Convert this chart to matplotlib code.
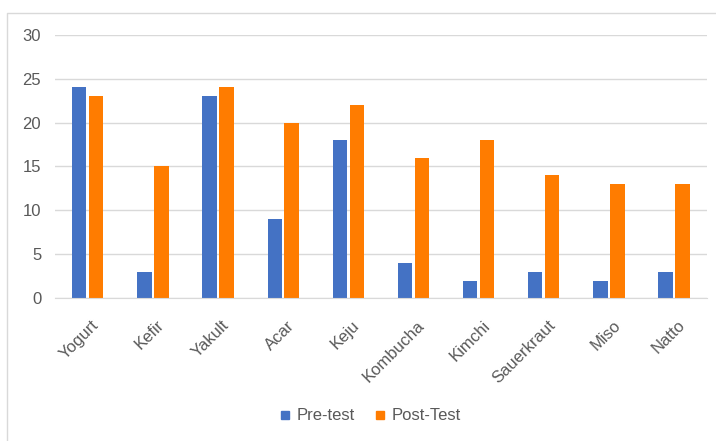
import numpy as np
import matplotlib.pyplot as plt
import matplotlib.transforms as mtransforms
from matplotlib.lines import Line2D

categories = ["Yogurt", "Kefir", "Yakult", "Acar", "Keju", "Kombucha",
              "Kimchi", "Sauerkraut", "Miso", "Natto"]
pre_test = [24, 3, 23, 9, 18, 4, 2, 3, 2, 3]
post_test = [23, 15, 24, 20, 22, 16, 18, 14, 13, 13]

BLUE = "#4472C4"
ORANGE = "#FF7C00"
GRAY = "#595959"

plt.rcParams["font.family"] = ["Liberation Sans", "DejaVu Sans"]

fig = plt.figure(figsize=(7.16, 4.41), dpi=100)
ax = fig.add_axes([0.077, 0.324, 0.91, 0.597])

x = np.arange(len(categories))
w = 0.22
ax.bar(x - 0.13, pre_test, w, color=BLUE, label="Pre-test")
ax.bar(x + 0.13, post_test, w, color=ORANGE, label="Post-Test")

ax.set_xlim(-0.5, len(categories) - 0.5)
ax.set_ylim(0, 30)
ax.set_yticks(range(0, 31, 5))
ax.yaxis.grid(True, color="#D9D9D9", linewidth=1)
ax.set_axisbelow(True)
for s in ["top", "right", "left"]:
    ax.spines[s].set_visible(False)
ax.spines["bottom"].set_color("#D9D9D9")

ax.tick_params(axis="both", length=0, colors=GRAY, labelsize=12)
ax.tick_params(axis="y", pad=10)
ax.set_xticks(x)
ax.set_xticklabels(categories, rotation=45, ha="right", va="center",
                   rotation_mode="anchor")
shift = mtransforms.ScaledTranslation(9 / 100, -20 / 100, fig.dpi_scale_trans)
for lbl in ax.get_xticklabels():
    lbl.set_color(GRAY)
    lbl.set_transform(lbl.get_transform() + shift)

fig.legend(handles=[
    Line2D([], [], marker="s", linestyle="none", color=BLUE, markersize=6, label="Pre-test"),
    Line2D([], [], marker="s", linestyle="none", color=ORANGE, markersize=6, label="Post-Test"),
], loc="center", bbox_to_anchor=(0.517, 0.057), ncol=2, frameon=False,
    handlelength=0.6, handletextpad=0.4, columnspacing=1.2,
    labelcolor=GRAY, fontsize=12)

# chart frame
fig.add_artist(Line2D([0.0098, 0.0098, 1.0], [0.0, 0.9705, 0.9705],
                      transform=fig.transFigure, color="#D9D9D9", linewidth=1))

fig.savefig("out.png", dpi=100)
